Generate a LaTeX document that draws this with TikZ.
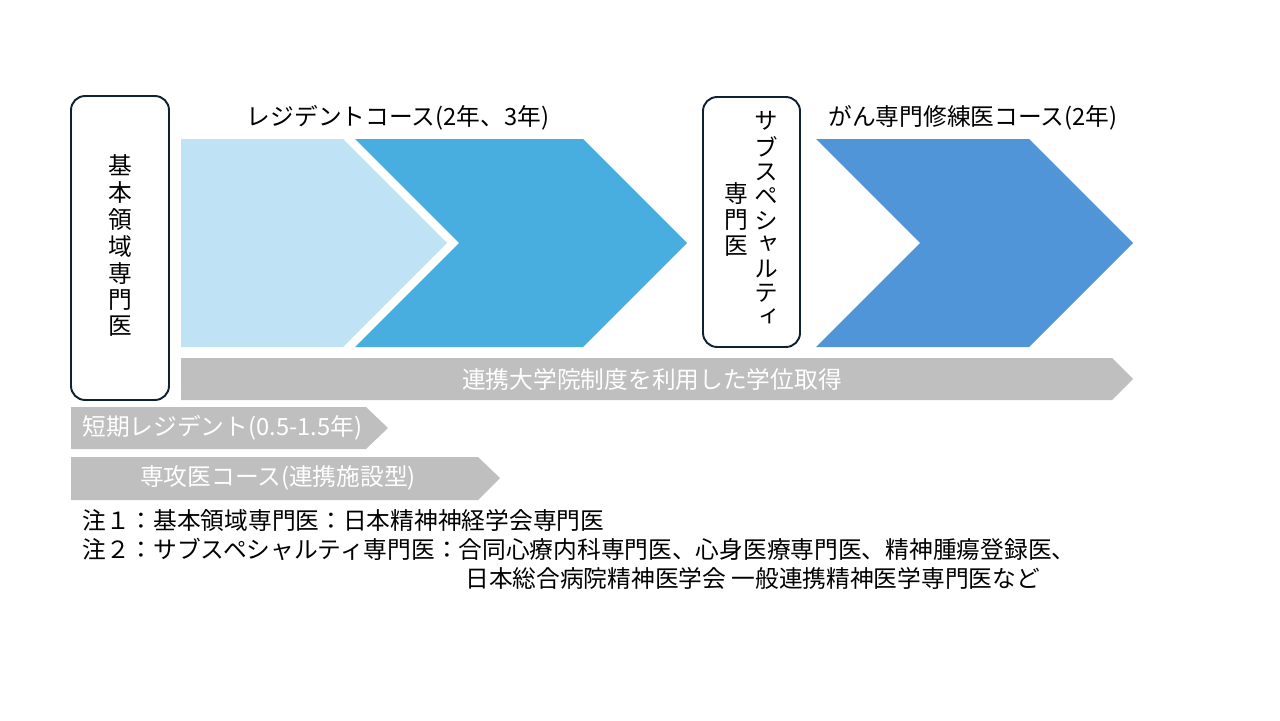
\documentclass[tikz,border=0pt]{standalone}
\usepackage{fontspec}
\setmainfont{Noto Sans CJK JP}
\newfontfamily\vjp[RawFeature=+vert]{Noto Sans CJK JP}
\usepackage{xcolor}
\definecolor{rLight}{HTML}{BFE3F4}
\definecolor{rMid}{HTML}{47AEDF}
\definecolor{rDeep}{HTML}{4F95D8}
\definecolor{rGray}{HTML}{BFBFBF}
\definecolor{rNavy}{HTML}{0E2233}
\usepackage{tikz}
\usetikzlibrary{positioning}

\begin{document}
\begin{tikzpicture}[x=0.02cm, y=-0.02cm, font=\fontsize{13.5}{13.5}\selectfont,
  qual/.style={draw=rNavy, line width=1.1pt, rounded corners=8pt, inner sep=0pt},
  ttl/.style={inner sep=0pt},
  bartext/.style={text=white, inner sep=0pt},
  note/.style={anchor=west, inner sep=0pt}]
\useasboundingbox (0,0) rectangle (1280,720);
\fill[rLight] (181,139) -- (343,139) -- (447,243) -- (343,347) -- (181,347) -- cycle;
\fill[rMid] (355,139) -- (583,139) -- (687,243) -- (583,347) -- (355,347) -- (459,243) -- cycle;
\fill[rDeep] (816,139) -- (1029,139) -- (1133,243) -- (1029,347) -- (816,347) -- (920,243) -- cycle;
\fill[rGray] (181,358) -- (1112,358) -- (1133,379) -- (1112,400) -- (181,400) -- cycle;
\fill[rGray] (71,407) -- (366,407) -- (388,428) -- (366,449) -- (71,449) -- cycle;
\fill[rGray] (71,457) -- (478,457) -- (500,478) -- (478,500) -- (71,500) -- cycle;
\node[qual, minimum width=1.96cm, minimum height=6.08cm] (basic) at (120,248)
  {\begin{tabular}{@{}c@{}}基\\本\\領\\域\\専\\門\\医\end{tabular}};
\node[qual, minimum width=1.94cm, minimum height=5cm] (subspec) at (751.5,222)
  {\vjp\begin{tabular}[c]{@{}c@{}}専\\門\\医\end{tabular}\hspace{3.5pt}%
   \begin{tabular}[c]{@{}c@{}}サ\\ブ\\ス\\ペ\\シ\\ャ\\ル\\テ\\ィ\end{tabular}};
\node[ttl] (resTitle) at (398,118) {レジデントコース(2年、3年)};
\node[ttl] (ganTitle) at (973,118) {がん専門修練医コース(2年)};
\node[bartext] (phd) at (652,379) {連携大学院制度を利用した学位取得};
\node[bartext, anchor=west] (shortRes) at (82,428) {短期レジデント(0.5-1.5年)};
\node[bartext] (senkoi) at (278,478) {専攻医コース(連携施設型)};
\node[note] (note1) at (82,520) {注１：基本領域専門医：日本精神神経学会専門医};
\node[note] (note2) at (82,549) {注２：サブスペシャルティ専門医：合同心療内科専門医、心身医療専門医、精神腫瘍登録医、};
\node[note] (note3) at (465,578) {日本総合病院精神医学会 一般連携精神医学専門医など};
\end{tikzpicture}
\end{document}
